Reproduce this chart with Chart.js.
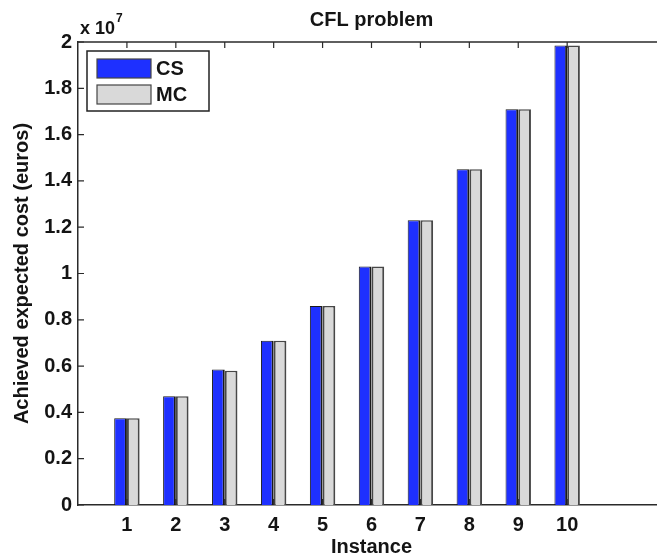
<!DOCTYPE html>
<html>
<head>
<meta charset="utf-8">
<script src="https://cdn.jsdelivr.net/npm/chart.js@4/dist/chart.umd.min.js"></script>
<style>
html, body { margin: 0; padding: 0; overflow: hidden; background: #fff; }
#wrap { width: 680px; height: 560px; }
</style>
</head>
<body>
<div id="wrap"><canvas id="costChart" width="680" height="560"></canvas></div>
<script>
// values (euros)
var instances = [1, 2, 3, 4, 5, 6, 7, 8, 9, 10];
var csCost = [0.375e7, 0.47e7, 0.585e7, 0.71e7, 0.86e7, 1.03e7, 1.23e7, 1.45e7, 1.71e7, 1.985e7];
var mcCost = [0.375e7, 0.47e7, 0.58e7, 0.71e7, 0.86e7, 1.03e7, 1.23e7, 1.45e7, 1.71e7, 1.985e7];
var yTicks = [0, 0.2, 0.4, 0.6, 0.8, 1, 1.2, 1.4, 1.6, 1.8, 2]; // x 10^7

var fontFam = "'Liberation Sans', Arial, Helvetica, sans-serif";
var ink = '#141414';

// MATLAB-ish extras: inward ticks, top frame, boxed legend, title, exponent
var matlabAxes = {
  id: 'matlabAxes',
  afterDatasetsDraw: function (chart) {
    var c = chart.ctx, a = chart.chartArea;
    var xs = chart.scales.x, ys = chart.scales.y;
    c.save();
    c.strokeStyle = '#2a2a2a';
    c.lineWidth = 1.5;
    c.beginPath();
    c.moveTo(a.left, a.top);
    c.lineTo(a.right, a.top);
    c.stroke();
    c.lineWidth = 1.2;
    c.beginPath();
    yTicks.forEach(function (t) {
      var py = ys.getPixelForValue(t * 1e7);
      c.moveTo(a.left, py);
      c.lineTo(a.left + 6, py);
    });
    instances.forEach(function (t) {
      var px = xs.getPixelForValue(t);
      c.moveTo(px, a.top);
      c.lineTo(px, a.top + 6);
      c.moveTo(px, a.bottom);
      c.lineTo(px, a.bottom - 6);
    });
    c.stroke();

    // legend box
    var lx = a.left + 9, ly = a.top + 9;
    c.fillStyle = '#fff';
    c.fillRect(lx, ly, 122, 60);
    c.strokeStyle = '#222';
    c.lineWidth = 1.5;
    c.strokeRect(lx, ly, 122, 60);
    chart.data.datasets.forEach(function (ds, i) {
      var sy = ly + 8 + i * 26;
      c.fillStyle = ds.backgroundColor;
      c.fillRect(lx + 10, sy, 54, 19);
      c.strokeStyle = '#444';
      c.lineWidth = 1.2;
      c.strokeRect(lx + 10, sy, 54, 19);
      c.fillStyle = ink;
      c.font = 'bold 20px ' + fontFam;
      c.textBaseline = 'middle';
      c.textAlign = 'left';
      c.fillText(ds.label, lx + 69, sy + 10);
    });

    // title and exponent
    c.fillStyle = ink;
    c.font = 'bold 20px ' + fontFam;
    c.textAlign = 'center';
    c.textBaseline = 'middle';
    c.fillText('CFL problem', (a.left + a.right) / 2, 20);
    c.textAlign = 'left';
    c.textBaseline = 'alphabetic';
    c.font = 'bold 18px ' + fontFam;
    c.fillText('x 10', a.left + 2, 34);
    var w = c.measureText('x 10').width;
    c.font = 'bold 12px ' + fontFam;
    c.fillText('7', a.left + 3 + w, 22);
    c.restore();
  }
};

var ctx = document.getElementById('costChart').getContext('2d');
var costChart = new Chart(ctx, {
  type: 'bar',
  data: {
    datasets: [{
      label: 'CS',
      data: instances.map(function (x, i) { return { x: x, y: csCost[i] }; }),
      backgroundColor: '#1e30ff',
      borderColor: '#1a1a1a',
      borderWidth: { left: 1, right: 2, top: 1, bottom: 0 },
      borderSkipped: false
    }, {
      label: 'MC',
      data: instances.map(function (x, i) { return { x: x, y: mcCost[i] }; }),
      backgroundColor: '#d9d9d9',
      borderColor: '#474747',
      borderWidth: { left: 2, right: 2, top: 1.5, bottom: 0 },
      borderSkipped: false
    }]
  },
  options: {
    responsive: false,
    animation: false,
    layout: { padding: { top: 42, right: 15, left: 0, bottom: 0 } },
    datasets: { bar: { categoryPercentage: 0.52, barPercentage: 1 } },
    plugins: {
      legend: { display: false },
      title: { display: false },
      tooltip: { enabled: false }
    },
    scales: {
      x: {
        type: 'linear',
        min: 0,
        max: 12,
        offset: false,
        grid: { display: false, drawTicks: false },
        border: { display: true, color: '#2a2a2a', width: 1.5 },
        afterBuildTicks: function (s) { s.ticks = instances.map(function (v) { return { value: v }; }); },
        afterFit: function (s) { s.height = 55; },
        ticks: {
          color: ink,
          font: { family: fontFam, size: 20, weight: 'bold' },
          padding: 8,
          autoSkip: false,
          maxRotation: 0
        },
        title: {
          display: true,
          text: 'Instance',
          color: ink,
          font: { family: fontFam, size: 20, weight: 'bold' },
          padding: { top: 0, bottom: 1 }
        }
      },
      y: {
        min: 0,
        max: 2e7,
        grid: { display: false, drawTicks: false },
        border: { display: true, color: '#2a2a2a', width: 1.5 },
        afterBuildTicks: function (s) { s.ticks = yTicks.map(function (v) { return { value: v * 1e7 }; }); },
        afterFit: function (s) { s.width = 78; },
        ticks: {
          color: ink,
          font: { family: fontFam, size: 20, weight: 'bold' },
          padding: 6,
          autoSkip: false,
          callback: function (v) { return String(Math.round(v / 1e6) / 10); }
        },
        title: {
          display: true,
          text: 'Achieved expected cost (euros)',
          color: ink,
          font: { family: fontFam, size: 20, weight: 'bold' },
          padding: { top: 10, bottom: 0 }
        }
      }
    }
  },
  plugins: [matlabAxes]
});
</script>
</body>
</html>
